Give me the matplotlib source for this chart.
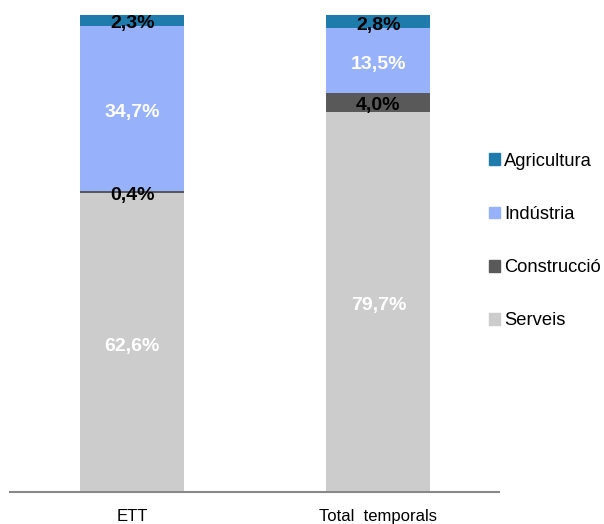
import matplotlib
matplotlib.use('Agg')
import matplotlib.pyplot as plt
from matplotlib.patches import Patch
import numpy as np

plt.rcParams['font.family'] = ['Liberation Sans', 'DejaVu Sans']

categories = ['ETT', 'Total  temporals']
serveis = [62.6, 79.7]
construccio = [0.4, 4.0]
industria = [34.7, 13.5]
agricultura = [2.3, 2.8]

series = [('Serveis', serveis, '#cccccc', 'white'),
          ('Construcció', construccio, '#595959', 'black'),
          ('Indústria', industria, '#97b2fa', 'white'),
          ('Agricultura', agricultura, '#1f7bac', 'black')]

fig = plt.figure(figsize=(6.04, 5.24), dpi=100)
ax = fig.add_axes([10/604, 32/524, 489/604, 477/524])

x = np.arange(len(categories))
bottom = np.zeros(len(categories))
for name, vals, col, tcol in series:
    vals = np.array(vals)
    ax.bar(x, vals, 0.423, bottom=bottom, color=col, label=name)
    for xi, b, v in zip(x, bottom, vals):
        ax.annotate(('%.1f%%' % v).replace('.', ','), (xi, b + v / 2),
                    xytext=(0, -2.5), textcoords='offset points',
                    ha='center', va='center', color=tcol,
                    fontsize=14, fontweight='bold')
    bottom += vals

ax.set_xlim(-0.496, 1.49)
ax.set_ylim(0, 100)
ax.set_xticks(x)
ax.set_xticklabels(categories, fontsize=12)
ax.tick_params(axis='x', length=0, pad=12)
ax.set_yticks([])
for s in ['top', 'right', 'left']:
    ax.spines[s].set_visible(False)
ax.spines['bottom'].set_color('#888888')
ax.spines['bottom'].set_linewidth(1.5)

handles = [Patch(color=c, label=n) for n, _, c, _ in series][::-1]
fig.legend(handles=handles, loc='center left', bbox_to_anchor=(482/604, 1 - 241/524),
           frameon=False, fontsize=13.2, handlelength=0.6, handleheight=0.6,
           handletextpad=0.2, labelspacing=1.98, borderaxespad=0)

fig.savefig('out.png', dpi=100)
